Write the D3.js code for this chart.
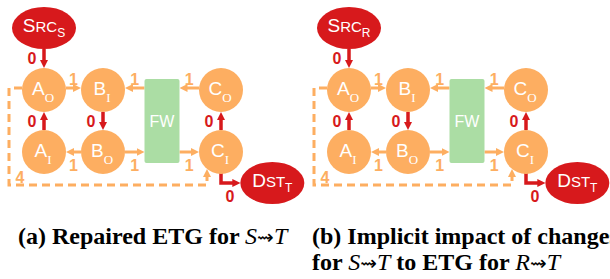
<!DOCTYPE html>
<html>
<head>
<meta charset="utf-8">
<script src="https://cdn.jsdelivr.net/npm/d3@7"></script>
<style>
body { margin: 0; background: #fff; }
svg { display: block; }
</style>
</head>
<body>
<svg width="610" height="279"></svg>
<script>
// two panels, differing only in the source node's subscript
var panels = ["a", "b"];
var sourceSubs = ["S", "R"];
var captionLines = [
  [["(a) Repaired ETG for ", "b"], ["S", "i"], ["\u21DD", "s"], ["T", "i"]],
  [["(b) Implicit impact of changes", "b"]],
  [["for ", "b"], ["S", "i"], ["\u21DD", "s"], ["T", "i"], [" to ETG for ", "b"], ["R", "i"], ["\u21DD", "s"], ["T", "i"]]
];

// ETG nodes on a grid: column, row
var nodes = [
  {id: "SRC", big: "S", small: "RC", sub: "S", col: 0,    row: -1,  kind: "end"},
  {id: "AO",  big: "A", small: "",   sub: "O", col: 0,    row: 0,   kind: "iface"},
  {id: "BI",  big: "B", small: "",   sub: "I", col: 1,    row: 0,   kind: "iface"},
  {id: "CO",  big: "C", small: "",   sub: "O", col: 3,    row: 0,   kind: "iface"},
  {id: "AI",  big: "A", small: "",   sub: "I", col: 0,    row: 1,   kind: "iface"},
  {id: "BO",  big: "B", small: "",   sub: "O", col: 1,    row: 1,   kind: "iface"},
  {id: "CI",  big: "C", small: "",   sub: "I", col: 3,    row: 1,   kind: "iface"},
  {id: "FW",  big: "FW", small: "",  sub: "",  col: 2,    row: 0.5, kind: "fw"},
  {id: "DST", big: "D", small: "ST", sub: "T", col: 3.87, row: 1.5, kind: "end"}
];

// straight edges with their weights
var edges = [
  {from: "SRC", to: "AO", w: 0},
  {from: "AO",  to: "BI", w: 1},
  {from: "FW",  to: "BI", w: 1},
  {from: "CO",  to: "FW", w: 1},
  {from: "AI",  to: "AO", w: 0},
  {from: "BI",  to: "BO", w: 0},
  {from: "CI",  to: "CO", w: 0},
  {from: "BO",  to: "AI", w: 1},
  {from: "BO",  to: "FW", w: 1},
  {from: "FW",  to: "CI", w: 1}
];
var loopEdge = {from: "AO", to: "CI", w: 4};   // dashed detour
var exitEdge = {from: "CI", to: "DST", w: 0};  // elbow to destination

var red = "#d7191c", orange = "#fdae61", green = "#abdda4";
var R = 22, fwW = 35, fwH = 84, endRx = 32, endRy = 21, head = 7;

var svg = d3.select("svg");
var px = d3.scalePoint().domain(panels).range([0, 305]);
var x = d3.scaleLinear().domain([0, 3]).range([44, 221]);
var y = d3.scaleLinear().domain([-1, 1]).range([28, 152]);
var edgeColor = function(w) { return w === 0 ? red : orange; };

var defs = svg.append("defs");
[["red", red], ["orange", orange]].forEach(function(m) {
  defs.append("marker")
      .attr("id", "arr-" + m[0])
      .attr("markerUnits", "userSpaceOnUse")
      .attr("viewBox", "0 0 8 8")
      .attr("markerWidth", 8).attr("markerHeight", 8)
      .attr("refX", 1).attr("refY", 4)
      .attr("orient", "auto")
    .append("path")
      .attr("d", "M0,0L8,4L0,8Z")
      .attr("fill", m[1]);
});
var marker = function(w) { return "url(#arr-" + (w === 0 ? "red" : "orange") + ")"; };

function halfW(n) { return n.kind === "fw" ? fwW / 2 : n.kind === "end" ? endRx : R; }
function halfH(n) { return n.kind === "fw" ? fwH / 2 : n.kind === "end" ? endRy : R; }

function weightText(g, v, lx, ly) {
  g.append("text")
      .attr("x", lx).attr("y", ly)
      .attr("text-anchor", "middle")
      .attr("dominant-baseline", "central")
      .style("font", "bold 16px 'Liberation Sans', Arial, sans-serif")
      .style("fill", edgeColor(v))
      .text(v);
}

panels.forEach(function(p, pi) {
  var g = svg.append("g").attr("transform", "translate(" + px(p) + ",0)");
  var pos = {};
  nodes.forEach(function(n) { pos[n.id] = Object.assign({}, n, {x: x(n.col), y: y(n.row)}); });

  // dashed loop A_O -> C_I
  var a = pos[loopEdge.from], c = pos[loopEdge.to];
  var left = a.x - 35, bottom = c.y + 33, ex = c.x - 14;
  var ey = c.y + Math.sqrt(R * R - 14 * 14);
  g.append("path")
      .attr("d", "M" + (a.x - R) + "," + (a.y - 2) + "H" + left + "V" + bottom + "H" + ex + "V" + (ey + head))
      .attr("fill", "none")
      .attr("stroke", orange).attr("stroke-width", 3)
      .attr("stroke-dasharray", "8,5")
      .attr("marker-end", marker(loopEdge.w));
  weightText(g, loopEdge.w, left + 11, bottom - 8);

  // elbow C_I -> DST
  var ci = pos[exitEdge.from], dst = pos[exitEdge.to];
  g.append("path")
      .attr("d", "M" + ci.x + "," + (ci.y + R - 2) + "V" + dst.y + "H" + (dst.x - endRx - head))
      .attr("fill", "none")
      .attr("stroke", red).attr("stroke-width", 3.5)
      .attr("marker-end", marker(exitEdge.w));
  weightText(g, exitEdge.w, ci.x + 9, dst.y + 13);

  // straight edges
  edges.forEach(function(e) {
    var s = pos[e.from], t = pos[e.to];
    var horiz = s.kind === "fw" || t.kind === "fw" || s.row === t.row;
    var x1, y1, x2, y2, lx, ly;
    if (horiz) {
      var yy = s.kind === "fw" ? t.y : s.y;
      if (yy < 100) yy -= 2;
      var dir = Math.sign(t.x - s.x);
      x1 = s.x + dir * halfW(s); x2 = t.x - dir * (halfW(t) + head);
      y1 = y2 = yy;
      lx = (s.x + dir * halfW(s) + t.x - dir * halfW(t)) / 2;
      ly = yy < 100 ? yy - 9 : yy + 13;
    } else {
      var dv = Math.sign(t.y - s.y);
      x1 = x2 = s.x;
      y1 = s.y + dv * halfH(s); y2 = t.y - dv * (halfH(t) + head);
      lx = s.x - 12;
      ly = (s.y + dv * halfH(s) + t.y - dv * halfH(t)) / 2;
    }
    g.append("line")
        .attr("x1", x1).attr("y1", y1).attr("x2", x2).attr("y2", y2)
        .attr("stroke", edgeColor(e.w))
        .attr("stroke-width", e.w === 0 ? 3.5 : 3)
        .attr("marker-end", marker(e.w));
    weightText(g, e.w, lx, ly);
  });

  // nodes
  var ng = g.selectAll("g.node")
    .data(nodes.map(function(n) { return pos[n.id]; }))
    .enter().append("g")
      .attr("class", "node")
      .attr("transform", function(d) { return "translate(" + d.x + "," + d.y + ")"; });

  ng.filter(function(d) { return d.kind === "iface"; })
    .append("circle").attr("r", R).attr("fill", orange);
  ng.filter(function(d) { return d.kind === "end"; })
    .append("ellipse").attr("rx", endRx).attr("ry", endRy).attr("fill", red);
  ng.filter(function(d) { return d.kind === "fw"; })
    .append("rect")
      .attr("x", -fwW / 2).attr("y", -fwH / 2)
      .attr("width", fwW).attr("height", fwH)
      .attr("rx", 2).attr("fill", green);

  var label = ng.append("text")
      .attr("text-anchor", "middle")
      .attr("y", function(d) { return d.kind === "fw" ? 6 : d.kind === "end" ? 4 : 5; })
      .attr("x", function(d) { return d.kind === "iface" ? -1 : 0; })
      .style("fill", "#fff")
      .style("font-family", "'Liberation Sans', Arial, sans-serif");
  label.append("tspan")
      .style("font-size", function(d) { return d.kind === "iface" ? "19px" : d.kind === "fw" ? "16px" : "19px"; })
      .text(function(d) { return d.big; });
  label.filter(function(d) { return d.small; }).append("tspan")
      .style("font-size", "15px")
      .text(function(d) { return d.small; });
  label.filter(function(d) { return d.sub; }).append("tspan")
      .attr("dy", function(d) { return d.kind === "end" ? 5 : 7; })
      .style("font-size", function(d) { return d.kind === "end" ? "12px" : "13px"; })
      .style("font-family", function(d) { return d.kind === "end" ? null : "'Liberation Serif', 'Times New Roman', serif"; })
      .text(function(d) { return d.id === "SRC" ? sourceSubs[pi] : d.sub; });
});

// captions
var capPos = [[18, 244], [312, 244], [312, 270]];
captionLines.forEach(function(line, i) {
  var t = svg.append("text")
      .attr("x", capPos[i][0]).attr("y", capPos[i][1])
      .style("font-family", "'Liberation Serif', 'Times New Roman', serif")
      .style("font-size", "24px")
      .style("fill", "#000");
  line.forEach(function(part) {
    var s = t.append("tspan").text(part[0]);
    if (part[1] === "b") s.style("font-weight", "bold");
    if (part[1] === "i") s.style("font-style", "italic");
    if (part[1] === "s") s.style("font-family", "'DejaVu Sans', sans-serif").style("font-size", "20px");
  });
});
</script>
</body>
</html>
